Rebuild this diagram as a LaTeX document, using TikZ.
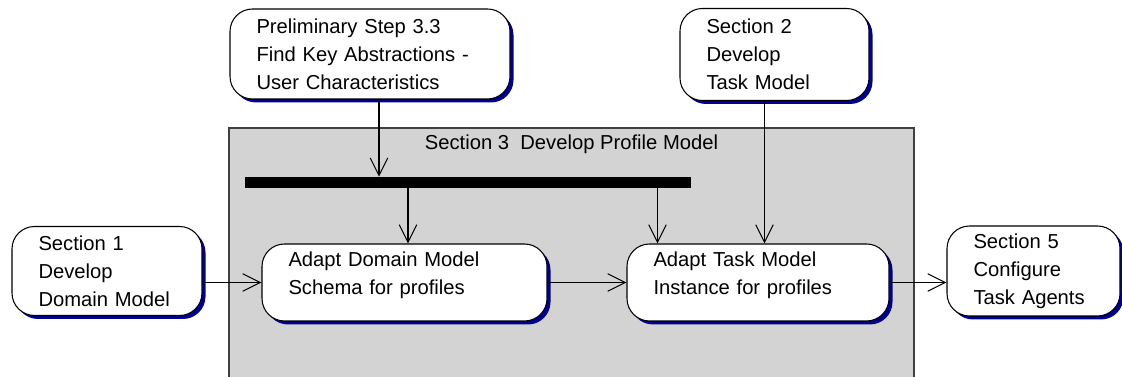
\documentclass[tikz,border=0pt]{standalone}
\usepackage{fontspec}
\setmainfont{Liberation Sans}
\usetikzlibrary{arrows.meta,shadows,positioning}

\definecolor{shadowblue}{RGB}{0,0,140}
\definecolor{panelgray}{RGB}{211,211,211}
\definecolor{panelline}{RGB}{64,64,64}
\newcommand\diagfont{\fontsize{11.5}{15.9}\selectfont}

\begin{document}
\begin{tikzpicture}[
	activity/.style={draw, fill=white, line width=0.6pt, rounded corners=0.45cm,
		align=left, inner xsep=0.53cm, inner ysep=0pt, font=\diagfont,
		drop shadow={shadow xshift=0.07cm, shadow yshift=-0.07cm, fill=shadowblue, opacity=1}},
	flow/.style={-{Straight Barb[length=10pt,width=10pt]}, line width=0.6pt},
]
	\useasboundingbox (0,0) rectangle (22.44,7.54);

	% profile model panel
	\node[draw=panelline, fill=panelgray, line width=0.6pt, minimum width=13.7cm, minimum height=5.4cm, inner sep=0] (sec3) at (11.43,2.28) {};
	\node[below=0.14cm of sec3.north, inner sep=0, font=\diagfont] (title) {Section 3~~Develop Profile Model};

	% sync bar
	\node[fill=black, minimum width=8.92cm, minimum height=0.22cm, inner sep=0] (bar) at (9.36,3.89) {};

	% activities
	\node[activity, text width=4.54cm, minimum height=1.8cm] (prelim) at (7.40,6.46) {Preliminary Step 3.3\\Find Key Abstractions -\\User Characteristics};
	\node[activity, text width=2.72cm, minimum height=1.84cm] (sec2) at (15.49,6.45) {Section 2\\Develop\\Task Model};
	\node[activity, text width=2.74cm, minimum height=1.78cm] (sec1) at (2.14,2.12) {Section 1\\Develop\\Domain Model};
	\node[activity, text width=4.64cm, minimum height=1.54cm, text depth=0.95cm] (domain) at (8.09,1.89) {Adapt Domain Model\\Schema for profiles};
	\node[activity, text width=4.18cm, minimum height=1.54cm, text depth=0.95cm] (task) at (15.16,1.89) {Adapt Task Model\\Instance for profiles};
	\node[activity, text width=2.40cm, minimum height=1.80cm] (sec5) at (20.67,2.12) {Section 5\\Configure\\Task Agents};

	% flows
	\coordinate (p1) at ([xshift=0.18cm]prelim.south);
	\draw[flow] (p1) -- (p1 |- bar.north);
	\coordinate (d1) at ([xshift=0.07cm]domain.north);
	\draw[flow] (d1 |- bar.south) -- (d1);
	\coordinate (t1) at ([xshift=0.62cm]task.north west);
	\draw[flow] (t1 |- bar.south) -- (t1);
	\coordinate (s2) at ([xshift=-0.2cm]sec2.south);
	\draw[flow] (s2) -- (s2 |- task.north);

	\draw[flow] (sec1.east |- domain.west) -- (domain.west);
	\draw[flow] (domain.east) -- (task.west);
	\draw[flow] (task.east) -- (task.east -| sec5.west);
\end{tikzpicture}
\end{document}
